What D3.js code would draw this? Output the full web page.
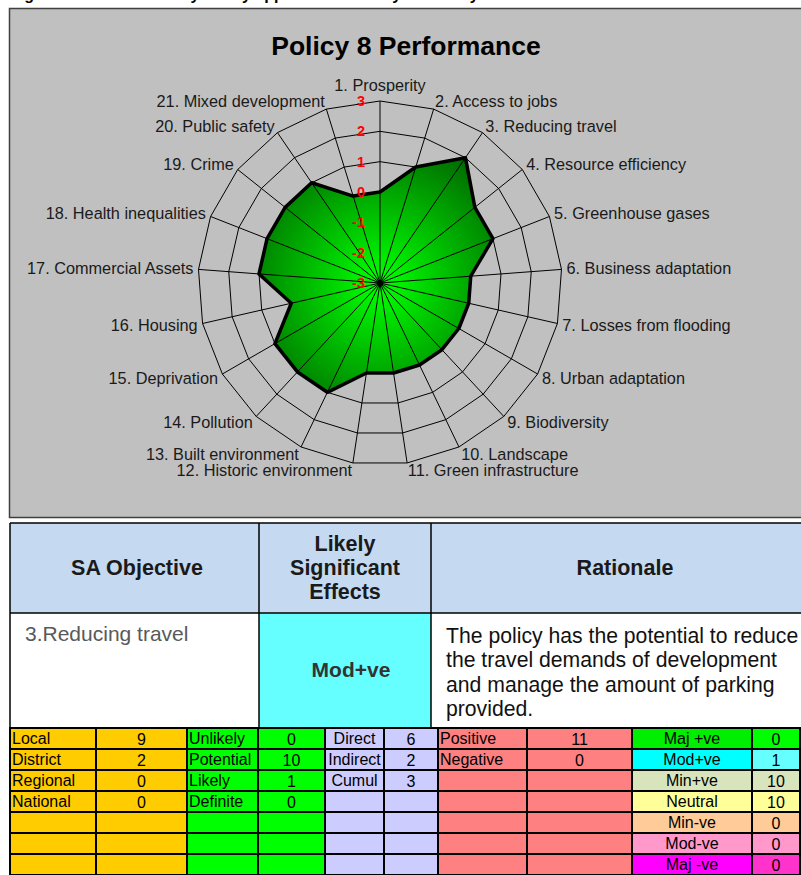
<!DOCTYPE html>
<html>
<head>
<meta charset="utf-8">
<script src="https://cdn.jsdelivr.net/npm/d3@7"></script>
<style>
  body { margin: 0; background: #fff; }
  svg { display: block; font-family: "Liberation Sans", Arial, sans-serif; }
</style>
</head>
<body>
<div class="chart"></div>
<script>
// radar data
var objectives = ["1. Prosperity", "2. Access to jobs", "3. Reducing travel", "4. Resource efficiency",
  "5. Greenhouse gases", "6. Business adaptation", "7. Losses from flooding", "8. Urban adaptation",
  "9. Biodiversity", "10. Landscape", "11. Green infrastructure", "12. Historic environment",
  "13. Built environment", "14. Pollution", "15. Deprivation", "16. Housing", "17. Commercial Assets",
  "18. Health inequalities", "19. Crime", "20. Public safety", "21. Mixed development"];
var scores = [0, 1, 2, 1, 1, 0, 0, 0, 0, 0, 0, 0, 1, 1, 1, 0, 1, 1, 1, 1, 0];
var ticks = [-3, -2, -1, 0, 1, 2, 3];

// summary table data
var scaleLabels = ["Local", "District", "Regional", "National"];
var scaleCounts = [9, 2, 0, 0];
var likelihoodLabels = ["Unlikely", "Potential", "Likely", "Definite"];
var likelihoodCounts = [0, 10, 1, 0];
var effectLabels = ["Direct", "Indirect", "Cumul"];
var effectCounts = [6, 2, 3];
var directionLabels = ["Positive", "Negative"];
var directionCounts = [11, 0];
var significanceLabels = ["Maj +ve", "Mod+ve", "Min+ve", "Neutral", "Min-ve", "Mod-ve", "Maj -ve"];
var significanceCounts = [0, 1, 10, 10, 0, 0, 0];

var objective = "3.Reducing travel";
var effect = "Mod+ve";
var rationale = ["The policy has the potential to reduce", "the travel demands of development",
  "and manage the amount of parking", "provided."];

var W = 801, H = 875;
var svg = d3.select(".chart").append("svg").attr("width", W).attr("height", H);

// caption, cut off at the top as in the source page
svg.append("text").attr("x", 10).attr("y", -0.5)
  .attr("font-weight", "bold").attr("font-size", 16)
  .text("Figure 5.8: Sustainability Policy appraisal summary for Policy 8");

// grey chart area
svg.append("rect").attr("x", 9.5).attr("y", 8.5).attr("width", 805).attr("height", 509)
  .attr("fill", "#c0c0c0").attr("stroke", "#404040").attr("stroke-width", 1.5);

svg.append("text").attr("x", 406).attr("y", 55).attr("text-anchor", "middle")
  .attr("font-weight", "bold").attr("font-size", 26.5).attr("fill", "#000")
  .text("Policy 8 Performance");

var cx = 380, cy = 283, R = 182;
var n = objectives.length;
var r = d3.scaleLinear().domain([-3, 3]).range([0, R]);
var angle = d3.scaleLinear().domain([0, n]).range([0, 2 * Math.PI]);

function pt(i, v) {
  var a = angle(i);
  return [cx + r(v) * Math.sin(a), cy - r(v) * Math.cos(a)];
}

var g = svg.append("g");

// rings
g.selectAll(".ring").data(ticks.slice(1)).enter().append("polygon")
  .attr("points", function (t) { return d3.range(n).map(function (i) { return pt(i, t); }).join(" "); })
  .attr("fill", "none").attr("stroke", "#000").attr("stroke-width", 1);

// gradient fill
var grad = svg.append("defs").append("radialGradient").attr("id", "green")
  .attr("gradientUnits", "userSpaceOnUse").attr("cx", cx).attr("cy", cy).attr("r", 155);
grad.append("stop").attr("offset", "0").attr("stop-color", "#00ff00");
grad.append("stop").attr("offset", "0.15").attr("stop-color", "#00ee00");
grad.append("stop").attr("offset", "1").attr("stop-color", "#006400");

var shape = scores.map(function (v, i) { return pt(i, v); });
g.append("polygon").attr("points", shape.join(" ")).attr("fill", "url(#green)");

// spokes
g.selectAll(".spoke").data(d3.range(n)).enter().append("line")
  .attr("x1", cx).attr("y1", cy)
  .attr("x2", function (i) { return pt(i, 3)[0]; })
  .attr("y2", function (i) { return pt(i, 3)[1]; })
  .attr("stroke", "#000").attr("stroke-width", 1);
g.append("circle").attr("cx", cx).attr("cy", cy).attr("r", 3).attr("fill", "#000");

g.append("polygon").attr("points", shape.join(" "))
  .attr("fill", "none").attr("stroke", "#000").attr("stroke-width", 3.5)
  .attr("stroke-linejoin", "round");

// category labels
g.selectAll(".lab").data(objectives).enter().append("text")
  .attr("font-size", 16.3).attr("fill", "#1a1a1a")
  .attr("text-anchor", function (d, i) {
    var s = Math.sin(angle(i));
    return s > 0.05 ? "start" : (s < -0.05 ? "end" : "middle");
  })
  .attr("x", function (d, i) { return pt(i, 3)[0] + 5 * Math.sin(angle(i)); })
  .attr("y", function (d, i) {
    var c = Math.cos(angle(i));
    var extra = Math.abs(Math.sin(angle(i))) < 0.05 && c > 0 ? 8 : 0;
    return pt(i, 3)[1] - c * 8 - extra + 5.5;
  })
  .text(function (d) { return d; });

// value ticks
g.selectAll(".tick").data(ticks).enter().append("text")
  .attr("x", cx - 15).attr("y", function (t) { return cy - r(t) + 5; })
  .attr("text-anchor", "end").attr("font-size", 14.5).attr("font-weight", "bold")
  .attr("fill", "#ff0000").text(function (t) { return t; });

// header table
var hx = [10, 259, 431, 820];
var hy = [523, 613, 727];
var tb = svg.append("g");
tb.append("rect").attr("x", hx[0]).attr("y", hy[0]).attr("width", hx[3] - hx[0]).attr("height", hy[1] - hy[0])
  .attr("fill", "#c5d9f1");
tb.append("rect").attr("x", hx[0]).attr("y", hy[1]).attr("width", hx[3] - hx[0]).attr("height", hy[2] - hy[1])
  .attr("fill", "#fff");
tb.append("rect").attr("x", hx[1]).attr("y", hy[1]).attr("width", hx[2] - hx[1]).attr("height", hy[2] - hy[1])
  .attr("fill", "#66ffff");
[hy[0], hy[1]].forEach(function (y) {
  tb.append("line").attr("x1", hx[0]).attr("x2", hx[3]).attr("y1", y).attr("y2", y)
    .attr("stroke", "#000").attr("stroke-width", 1.5);
});
hx.slice(0, 3).forEach(function (x) {
  tb.append("line").attr("x1", x).attr("x2", x).attr("y1", hy[0]).attr("y2", hy[2])
    .attr("stroke", "#000").attr("stroke-width", 1.5);
});

var head = tb.append("g").attr("font-weight", "bold").attr("font-size", 21.5).attr("fill", "#1a1a1a")
  .attr("text-anchor", "middle");
head.append("text").attr("x", 137).attr("y", 575).text("SA Objective");
["Likely", "Significant", "Effects"].forEach(function (t, i) {
  head.append("text").attr("x", 345).attr("y", 551 + i * 24).text(t);
});
head.append("text").attr("x", 625).attr("y", 575).text("Rationale");

tb.append("text").attr("x", 25).attr("y", 641).attr("font-size", 21).attr("fill", "#595959").text(objective);
tb.append("text").attr("x", 351).attr("y", 677).attr("text-anchor", "middle")
  .attr("font-size", 21).attr("font-weight", "bold").attr("fill", "#333").text(effect);
rationale.forEach(function (t, i) {
  tb.append("text").attr("x", 446).attr("y", 643 + i * 24.3).attr("font-size", 21.2)
    .attr("fill", "#111").text(t);
});

// summary grid
var colX = [10, 96, 187, 258, 325, 384, 438, 527, 632, 752, 800];
var rowY = d3.scaleLinear().domain([0, 7]).range([728, 875]);
var sigLabelFill = ["#00ee00", "#00ffff", "#d8e4bc", "#ffff99", "#ffcc99", "#ff99cc", "#ff00ff"];
var sigValueFill = ["#00ff00", "#66ffff", "#d8e4bc", "#ffff99", "#ffcc99", "#ff99cc", "#ff33cc"];
var groups = [
  { labels: scaleLabels, counts: scaleCounts, c: 0, fill: "#ffcc00", align: "start" },
  { labels: likelihoodLabels, counts: likelihoodCounts, c: 2, fill: "#00ff00", align: "start" },
  { labels: effectLabels, counts: effectCounts, c: 4, fill: "#ccccff", align: "middle" },
  { labels: directionLabels, counts: directionCounts, c: 6, fill: "#ff8080", align: "start" },
  { labels: significanceLabels, counts: significanceCounts, c: 8, fill: null, align: "middle" }
];

var grid = svg.append("g").attr("font-size", 16).attr("fill", "#000");
groups.forEach(function (gr) {
  d3.range(7).forEach(function (row) {
    var x0 = colX[gr.c], x1 = colX[gr.c + 1], x2 = colX[gr.c + 2];
    var y0 = rowY(row), y1 = rowY(row + 1);
    grid.append("rect").attr("x", x0).attr("y", y0).attr("width", x1 - x0).attr("height", y1 - y0)
      .attr("fill", gr.fill || sigLabelFill[row]).attr("stroke", "#000").attr("stroke-width", 2);
    grid.append("rect").attr("x", x1).attr("y", y0).attr("width", x2 - x1).attr("height", y1 - y0)
      .attr("fill", gr.fill || sigValueFill[row]).attr("stroke", "#000").attr("stroke-width", 2);
    if (row < gr.labels.length) {
      grid.append("text")
        .attr("x", gr.align === "start" ? x0 + 2 : (x0 + x1) / 2)
        .attr("text-anchor", gr.align).attr("y", y0 + 16)
        .text(gr.labels[row]);
      grid.append("text").attr("x", (x1 + x2) / 2).attr("text-anchor", "middle").attr("y", y0 + 16.5)
        .text(gr.counts[row]);
    }
  });
});
</script>
</body>
</html>
